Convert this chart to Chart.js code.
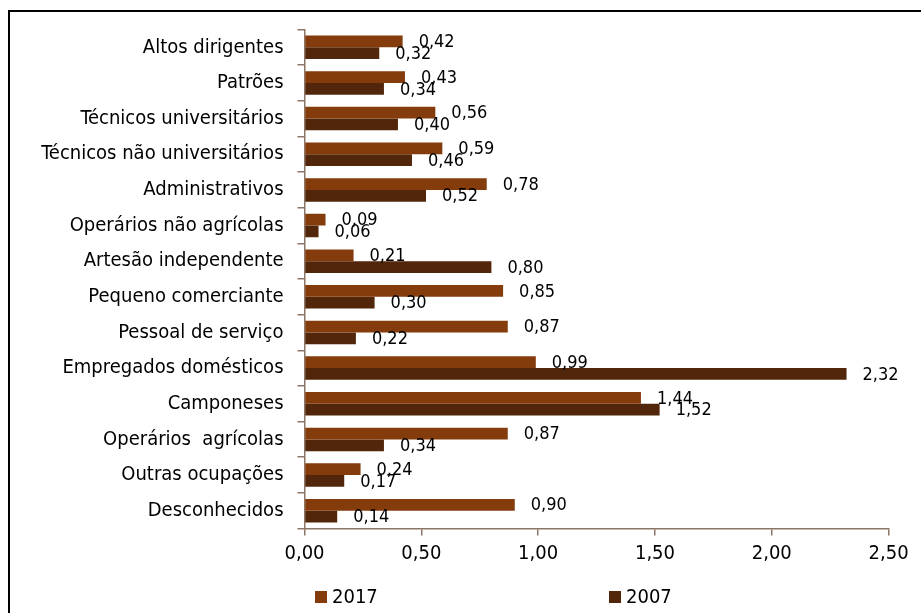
<!DOCTYPE html>
<html>
<head>
<meta charset="utf-8">
<script src="https://cdn.jsdelivr.net/npm/chart.js@4.4.1/dist/chart.umd.min.js"></script>
<style>
  html, body { margin: 0; padding: 0; background: #fff; }
  #wrap { position: relative; width: 921px; height: 613px; overflow: hidden; }
  #frame { position: absolute; left: 8px; top: 10px; width: 1000px; height: 700px;
           border-top: 2px solid #000; border-left: 2px solid #000; }
  canvas { position: absolute; left: 0; top: 0; }
  .leg { position: absolute; top: 584px; font: 20px 'DejaVu Sans Condensed', 'DejaVu Sans', sans-serif;
         color: #000; line-height: 24px; }
  .leg i { display: inline-block; width: 12px; height: 12px; margin-right: 5px; vertical-align: 0px; }
</style>
</head>
<body>
<div id="wrap">
  <div id="frame"></div>
  <canvas id="chart" width="921" height="613"></canvas>
  <div class="leg" style="left:315px"><i style="background:#843C0C"></i>2017</div>
  <div class="leg" style="left:609px"><i style="background:#52260B"></i>2007</div>
</div>
<script>
const FONT = "'DejaVu Sans Condensed', 'DejaVu Sans', sans-serif";
const AXIS_COLOR = '#8d7566';

// categories, top to bottom
const categories = [
    'Altos dirigentes',
    'Patrões',
    'Técnicos universitários',
    'Técnicos não universitários',
    'Administrativos',
    'Operários não agrícolas',
    'Artesão independente',
    'Pequeno comerciante',
    'Pessoal de serviço',
    'Empregados domésticos',
    'Camponeses',
    'Operários  agrícolas',
    'Outras ocupações',
    'Desconhecidos'
];

const values2017 = [0.42, 0.43, 0.56, 0.59, 0.78, 0.09, 0.21, 0.85, 0.87, 0.99, 1.44, 0.87, 0.24, 0.90];
const values2007 = [0.32, 0.34, 0.40, 0.46, 0.52, 0.06, 0.80, 0.30, 0.22, 2.32, 1.52, 0.34, 0.17, 0.14];

const xTicks = [0, 0.5, 1, 1.5, 2, 2.5];

function fmt(v) {
    return v.toFixed(2).replace('.', ',');
}

// value labels just past the bar ends
const barLabels = {
    id: 'barLabels',
    afterDatasetsDraw(chart) {
        const ctx = chart.ctx;
        ctx.save();
        ctx.font = '18px ' + FONT;
        ctx.fillStyle = '#000';
        ctx.textAlign = 'left';
        ctx.textBaseline = 'middle';
        chart.data.datasets.forEach((ds, i) => {
            const meta = chart.getDatasetMeta(i);
            meta.data.forEach((bar, j) => {
                ctx.fillText(fmt(ds.data[j]), bar.x + 16, bar.y + 1);
            });
        });
        ctx.restore();
    }
};

const ctx = document.getElementById('chart').getContext('2d');
new Chart(ctx, {
    type: 'bar',
    data: {
        labels: categories,
        datasets: [{
            label: '2017',
            data: values2017,
            backgroundColor: '#843C0C',
            categoryPercentage: 0.66,
            barPercentage: 1
        }, {
            label: '2007',
            data: values2007,
            backgroundColor: '#52260B',
            categoryPercentage: 0.66,
            barPercentage: 1
        }]
    },
    options: {
        indexAxis: 'y',
        responsive: false,
        animation: false,
        layout: {
            padding: { left: 10, top: 29.5, right: 32.4, bottom: 0 }
        },
        plugins: {
            legend: { display: false },
            tooltip: { enabled: false }
        },
        scales: {
            x: {
                min: 0,
                max: 2.5,
                afterBuildTicks: (scale) => {
                    scale.ticks = xTicks.map(v => ({ value: v }));
                },
                afterFit: (scale) => { scale.height = 84.5; },
                border: { color: AXIS_COLOR, width: 1.5 },
                grid: { drawOnChartArea: false, color: AXIS_COLOR, tickLength: 7, lineWidth: 1.5 },
                ticks: {
                    padding: 6,
                    color: '#000',
                    font: { family: FONT, size: 20 },
                    maxRotation: 0,
                    callback: (v) => fmt(v)
                }
            },
            y: {
                afterFit: (scale) => { scale.width = 294.5; },
                border: { color: AXIS_COLOR, width: 1.5 },
                grid: { drawOnChartArea: false, color: AXIS_COLOR, tickLength: 7, lineWidth: 1.5, offset: true },
                ticks: {
                    padding: 14,
                    color: '#000',
                    font: { family: FONT, size: 20 }
                }
            }
        }
    },
    plugins: [barLabels]
});
</script>
</body>
</html>
